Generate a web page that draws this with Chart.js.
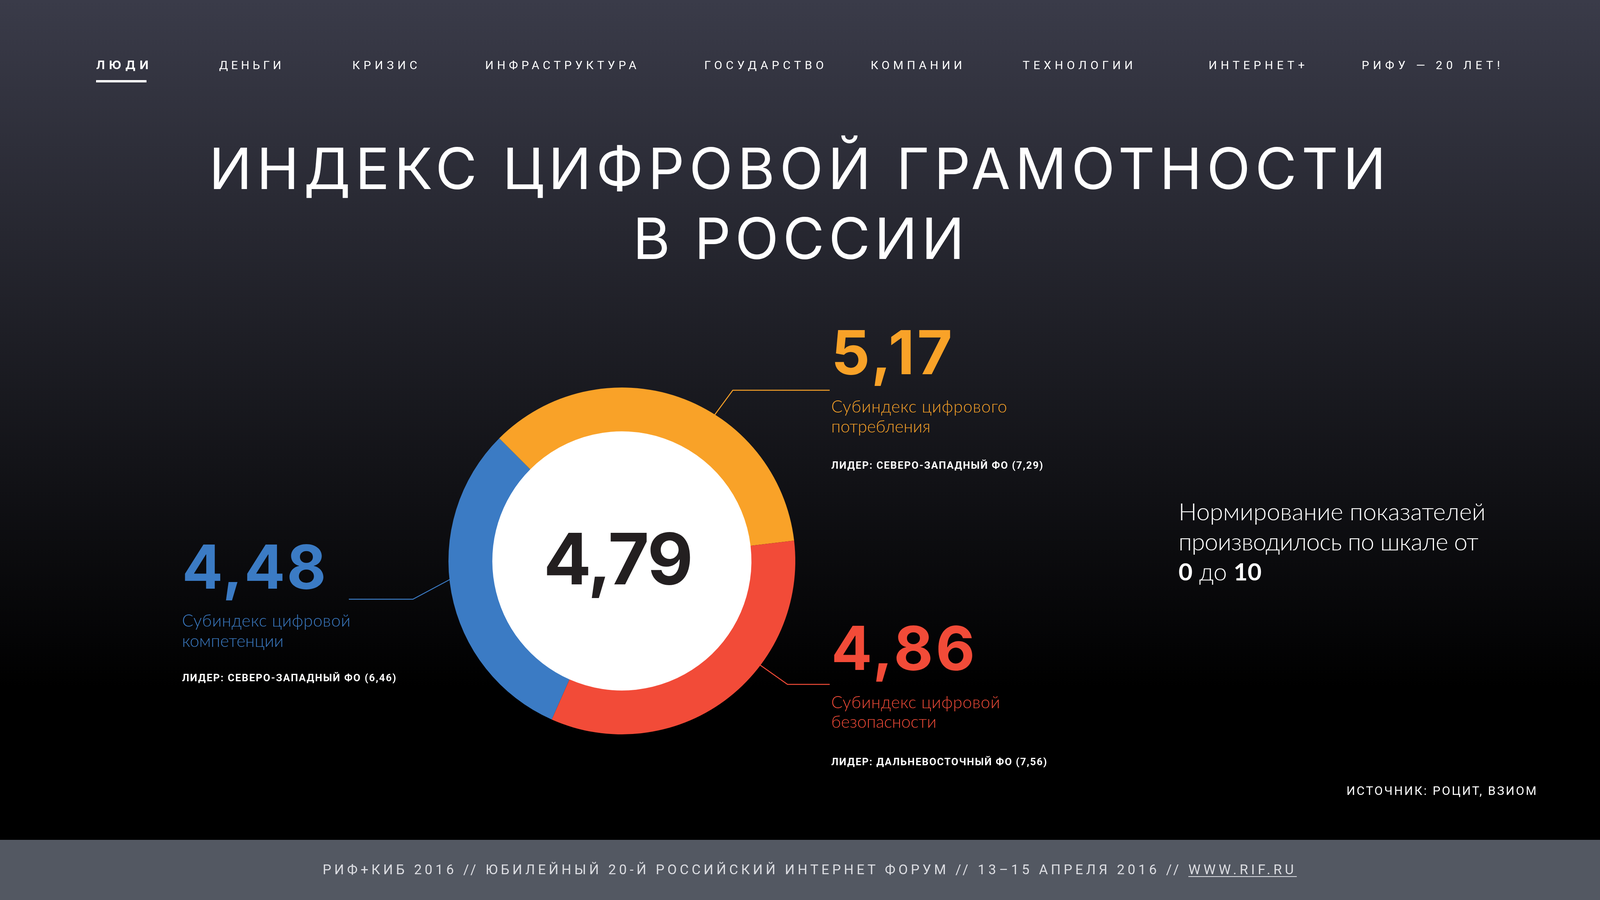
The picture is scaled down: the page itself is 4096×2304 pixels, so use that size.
<!DOCTYPE html>
<html lang="ru">
<head>
    <meta charset="UTF-8">
    <title>Индекс цифровой грамотности в России</title>
    <script src="https://cdn.jsdelivr.net/npm/chart.js"></script>
    <style>
        html, body { margin: 0; padding: 0; }
        body {
            width: 4096px; height: 2304px; position: relative; overflow: hidden;
            background: linear-gradient(180deg, #3a3b49 0px, #000 1760px);
            font-family: Inter, "Noto Sans", sans-serif; color: #fff;
        }
        #footer { position: absolute; left: 0; top: 2150px; width: 4096px; height: 154px; background: #535862; }
        #chartCanvas { position: absolute; left: 0; top: 0; }
        #navLine { position: absolute; left: 246px; top: 205px; width: 129px; height: 6px; background: #fff; }
        .t { position: absolute; left: 0; top: 0; white-space: nowrap; }
        .bl { display: inline-block; width: 0; height: 0; vertical-align: baseline; }
        u { text-decoration-thickness: 2px; text-underline-offset: 5px; }
    </style>
</head>
<body>
    <div id="footer"></div>
    <canvas id="chartCanvas" width="4096" height="2304"></canvas>
    <div id="navLine"></div>
    <div id="texts"></div>

    <script>
        // data
        const categories = ['Субиндекс цифровой компетенции', 'Субиндекс цифрового потребления', 'Субиндекс цифровой безопасности'];
        const subindexValues = [4.48, 5.17, 4.86];
        const leaderRegions = ['СЕВЕРО-ЗАПАДНЫЙ ФО', 'СЕВЕРО-ЗАПАДНЫЙ ФО', 'ДАЛЬНЕВОСТОЧНЫЙ ФО'];
        const leaderValues = [6.46, 7.29, 7.56];
        const totalIndex = 4.79;
        const sliceColors = ['#3b7bc4', '#f9a228', '#f24b38'];
        const navItems = ['ЛЮДИ', 'ДЕНЬГИ', 'КРИЗИС', 'ИНФРАСТРУКТУРА', 'ГОСУДАРСТВО', 'КОМПАНИИ', 'ТЕХНОЛОГИИ', 'ИНТЕРНЕТ+', 'РИФУ — 20 ЛЕТ!'];
        const titleLines = ['ИНДЕКС ЦИФРОВОЙ ГРАМОТНОСТИ', 'В РОССИИ'];
        const noteLines = ['Нормирование показателей', 'производилось по шкале от'];
        const scaleMin = 0, scaleMax = 10;
        const sourceText = 'ИСТОЧНИК: РОЦИТ, ВЗИОМ';
        const footerText = 'РИФ+КИБ 2016 // ЮБИЛЕЙНЫЙ 20-Й РОССИЙСКИЙ ИНТЕРНЕТ ФОРУМ // 13–15 АПРЕЛЯ 2016 // ';
        const footerLink = 'WWW.RIF.RU';

        // layout (page px)
        const navX = [246, 561, 902, 1242, 1803, 2229, 2618, 3094, 3486];
        const navW = [134, 159, 166, 387, 306, 234, 282, 246, 354];
        const blocks = [
            { x: 466, numW: 369, numBase: 1507, subW: 431, subBase: [1604, 1656], lidW: 548, lidBase: 1744 },
            { x: 2128, numW: 310, numBase: 958, subW: 450, subBase: [1056, 1107], lidW: 542, lidBase: 1200 },
            { x: 2128, numW: 368, numBase: 1715, subW: 432, subBase: [1813, 1863], lidW: 552, lidBase: 1959 }
        ];
        const leaderLines = [
            { angle: 174, elbow: [1057, 1534], end: [893, 1534] },
            { angle: -57.6, elbow: [1876, 999], end: [2124, 999] },
            { angle: 37, elbow: [2016, 1752], end: [2124, 1752] }
        ];
        const lightFont = 'Lato, Roboto';

        const fmt = v => v.toFixed(2).replace('.', ',');
        const layer = document.getElementById('texts');

        function place(o) {
            const el = document.createElement('div');
            el.className = 't';
            el.style.font = `${o.weight || 400} ${o.size}px ${o.family || 'Inter'}`;
            el.style.color = o.color || '#fff';
            const span = document.createElement('span');
            if (o.html) span.innerHTML = o.html; else span.textContent = o.text;
            el.appendChild(span);
            const bl = document.createElement('span');
            bl.className = 'bl';
            el.appendChild(bl);
            layer.appendChild(el);
            const n = span.textContent.length;
            const w0 = span.getBoundingClientRect().width;
            let w = w0;
            if (o.width && n > 1) {
                span.style.letterSpacing = ((o.width - w0) / (n - 1)) + 'px';
                w = o.width;
            }
            const base = bl.getBoundingClientRect().top - el.getBoundingClientRect().top;
            let left = o.x;
            if (o.align === 'right') left = o.x - w;
            if (o.align === 'center') left = o.x - w / 2;
            el.style.left = left + 'px';
            el.style.top = (o.baseline - base) + 'px';
            return el;
        }

        // nav
        navItems.forEach((t, i) => place({
            text: t, x: navX[i], width: navW[i], baseline: 177, size: 30,
            weight: i === 0 ? 700 : 400, family: i === 0 ? 'Inter' : 'Roboto'
        }));

        // title
        place({ text: titleLines[0], x: 535, width: 3013, baseline: 484, size: 146, weight: 400 });
        place({ text: titleLines[1], x: 1620, width: 849, baseline: 663, size: 146, weight: 400 });

        // doughnut
        const sum = subindexValues.reduce((a, b) => a + b, 0);
        const centerPlugin = {
            id: 'centerFill',
            beforeDatasetsDraw(chart) {
                const arc = chart.getDatasetMeta(0).data[0];
                const ctx = chart.ctx;
                ctx.save();
                ctx.fillStyle = '#fff';
                ctx.beginPath();
                ctx.arc(arc.x, arc.y, arc.innerRadius + 1, 0, Math.PI * 2);
                ctx.fill();
                ctx.restore();
            }
        };
        const leaderPlugin = {
            id: 'leaders',
            beforeDatasetsDraw(chart) {
                const ctx = chart.ctx;
                chart.getDatasetMeta(0).data.forEach((arc, i) => {
                    const g = leaderLines[i];
                    const a = g.angle * Math.PI / 180;
                    ctx.save();
                    ctx.strokeStyle = sliceColors[i];
                    ctx.lineWidth = 2.5;
                    ctx.beginPath();
                    ctx.moveTo(arc.x + (arc.outerRadius - 4) * Math.cos(a), arc.y + (arc.outerRadius - 4) * Math.sin(a));
                    ctx.lineTo(g.elbow[0], g.elbow[1]);
                    ctx.lineTo(g.end[0], g.end[1]);
                    ctx.stroke();
                    ctx.restore();
                });
            }
        };

        const chart = new Chart(document.getElementById('chartCanvas'), {
            type: 'doughnut',
            data: {
                labels: categories,
                datasets: [{
                    data: subindexValues,
                    backgroundColor: sliceColors,
                    borderWidth: 0
                }]
            },
            options: {
                responsive: false,
                devicePixelRatio: 1,
                animation: false,
                rotation: -45 - subindexValues[0] / sum * 360,
                cutout: '74.7%',
                layout: { padding: { left: 1148, right: 2060, top: 992, bottom: 424 } },
                plugins: { legend: { display: false }, tooltip: { enabled: false } }
            },
            plugins: [centerPlugin, leaderPlugin]
        });

        const c = chart.getDatasetMeta(0).data[0];
        place({ text: fmt(totalIndex), x: c.x - 9, width: 383, align: 'center', baseline: c.y + 60, size: 181, weight: 700, color: '#231f20' });

        // labels for each subindex
        blocks.forEach((b, i) => {
            const words = categories[i].split(' ');
            place({ text: fmt(subindexValues[i]), x: b.x, width: b.numW, baseline: b.numBase, size: 155, weight: 700, color: sliceColors[i] });
            place({ text: words.slice(0, 2).join(' '), x: b.x, width: b.subW, baseline: b.subBase[0], size: 43, weight: 300, family: lightFont, color: sliceColors[i] });
            place({ text: words.slice(2).join(' '), x: b.x, baseline: b.subBase[1], size: 43, weight: 300, family: lightFont, color: sliceColors[i] });
            place({ text: `ЛИДЕР: ${leaderRegions[i]} (${fmt(leaderValues[i])})`, x: b.x, width: b.lidW, baseline: b.lidBase, size: 26, weight: 700, family: 'Roboto' });
        });

        // note on the right
        place({ text: noteLines[0], x: 3017, width: 786, baseline: 1332, size: 62, weight: 300, family: lightFont });
        place({ text: noteLines[1], x: 3017, width: 768, baseline: 1409, size: 62, weight: 300, family: lightFont });
        place({ html: `<b style="font-weight:700">${scaleMin}</b> до <b style="font-weight:700">${scaleMax}</b>`, x: 3017, baseline: 1486, size: 62, weight: 300, family: lightFont });

        // source and footer
        place({ text: sourceText, x: 3933, width: 486, align: 'right', baseline: 2035, size: 31, weight: 400, family: 'Roboto' });
        place({ html: `${footerText}<u>${footerLink}</u>`, x: 826, width: 2486, baseline: 2238, size: 35, weight: 400, family: 'Roboto', color: '#dcdde2' });
    </script>
</body>
</html>
